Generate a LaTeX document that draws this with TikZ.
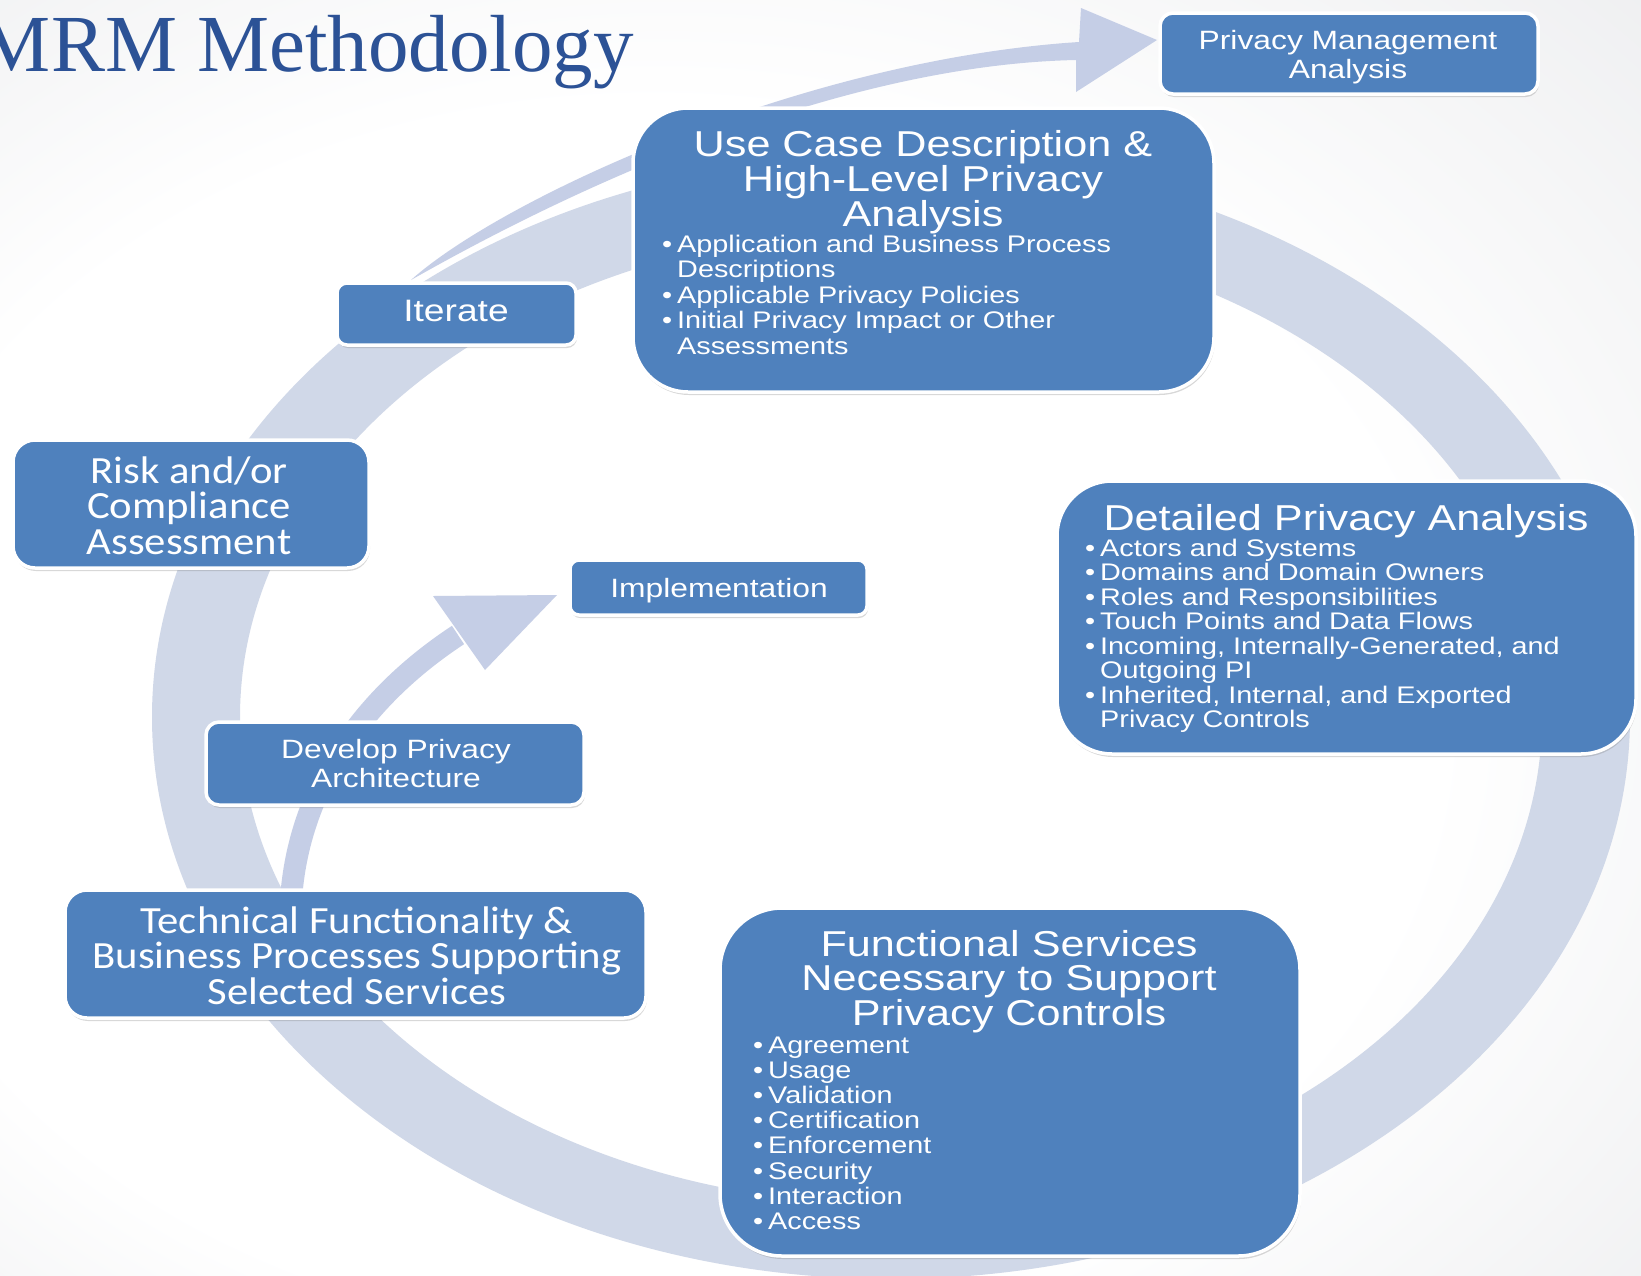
\documentclass[tikz,border=0pt]{standalone}
\usepackage{fontspec}
\usetikzlibrary{shadows}
\setmainfont{Liberation Sans}
\newfontfamily\boxsans[FakeStretch=1.2]{Liberation Sans}
\newfontfamily\boxcal[FakeStretch=1.11]{Carlito}
\newfontfamily\titleserif{Liberation Serif}
\definecolor{boxblue}{RGB}{79,129,189}
\definecolor{ringblue}{RGB}{208,216,232}
\definecolor{arrowblue}{RGB}{197,206,230}
\definecolor{titleblue}{RGB}{44,82,150}
\definecolor{bggray}{RGB}{226,227,230}
\pgfdeclareradialshading{bgglow}{\pgfpoint{-10bp}{-6bp}}{color(0bp)=(white); color(24bp)=(white); color(50bp)=(bggray)}
\newcommand{\bulitem}{\makebox[15pt][l]{•}}
\newcommand{\bulcont}{\hspace*{15pt}}

\begin{document}
\begin{tikzpicture}[x=1pt, y=-1pt,
  stagebox/.style={draw=white, line width=3.5pt, fill=boxblue,
    drop shadow={opacity=0.3, shadow xshift=1pt, shadow yshift=-3pt}},
  bighead/.style={inner sep=0, text=white, align=center, font=\boxsans\fontsize{36}{33.5}\selectfont},
  bullets/.style={inner sep=0, text=white, align=left, font=\boxsans\fontsize{24}{25}\selectfont},
  smalltxt/.style={inner sep=0, text=white, align=center, font=\boxsans\fontsize{26.5}{29}\selectfont},
  caltxt/.style={inner sep=0, text=white, align=center, font=\boxcal\fontsize{38.5}{35.5}\selectfont},
  band/.style={fill=arrowblue}]
\useasboundingbox (0,0) rectangle (1641,1275);
\shade[shading=bgglow] (0,0) rectangle (1641,1275);

% the cycle
\fill[ringblue, even odd rule] (891,717) ellipse [x radius=739, y radius=562]
  (891,717) ellipse [x radius=651, y radius=487];

% arrows
\coordinate (pmaTail) at (411,280);
\coordinate (pmaTip) at (1157,40);
\fill[band] (pmaTail) .. controls (500,200) and (800,60) .. (1079,42) -- (1081,8) -- (pmaTip)
  -- (1076,92) -- (1076,60) .. controls (880,64) and (640,150) .. (pmaTail) -- cycle;

\coordinate (implTail) at (291,900);
\coordinate (implBase) at (458,635);
\coordinate (implTip) at (557,595);
\draw[arrowblue, line width=22] (implTail) .. controls (298,790) and (362,698) .. (implBase);
\fill[band] (433,596) -- (implTip) -- (485,670) -- cycle;

% boxes
\node (PMA) at (1349,53.5) [stagebox, rounded corners=13, minimum width=378, minimum height=81] {};
\node (UC) at (923.5,250) [stagebox, rounded corners=55, minimum width=581, minimum height=284] {};
\node (IT) at (456.5,314) [stagebox, rounded corners=10, minimum width=239, minimum height=62] {};
\node (RC) at (191,504) [stagebox, rounded corners=22, minimum width=356, minimum height=128] {};
\node (IM) at (718.5,587.5) [stagebox, rounded corners=9, minimum width=297, minimum height=55] {};
\node (DP) at (395,763.5) [stagebox, rounded corners=13, minimum width=378, minimum height=83] {};
\node (DA) at (1346.5,617.5) [stagebox, rounded corners=55, minimum width=579, minimum height=273] {};
\node (TF) at (355.5,954) [stagebox, rounded corners=22, minimum width=581, minimum height=128] {};
\node (FS) at (1010,1082) [stagebox, rounded corners=62, minimum width=580, minimum height=348] {};

% texts (base = last line)
\node (PMAt) at (1348,78) [smalltxt, anchor=base] {Privacy Management\\Analysis};
\node (UCt) at (923,226) [bighead, anchor=base] {Use Case Description \&\\High-Level Privacy\\Analysis};
\node (UCl) at (662,354) [bullets, font=\boxsans\fontsize{24}{25.5}\selectfont, anchor=base west]
  {\bulitem Application and Business Process\\\bulcont Descriptions\\\bulitem Applicable Privacy Policies\\
   \bulitem Initial Privacy Impact or Other\\\bulcont Assessments};
\node (ITt) at (456,321) [smalltxt, font=\boxsans\fontsize{31}{31}\selectfont, anchor=base] {Iterate};
\node (RCt) at (189,554) [caltxt, anchor=base] {Risk and/or\\Compliance\\Assessment};
\node (IMt) at (719,597) [smalltxt, anchor=base] {Implementation};
\node (DPt) at (396,787) [smalltxt, anchor=base] {Develop Privacy\\Architecture};
\node (DAt) at (1346,530) [bighead, anchor=base] {Detailed Privacy Analysis};
\node (DAl) at (1085,727.5) [bullets, font=\boxsans\fontsize{24}{24.5}\selectfont, anchor=base west]
  {\bulitem Actors and Systems\\\bulitem Domains and Domain Owners\\\bulitem Roles and Responsibilities\\
   \bulitem Touch Points and Data Flows\\\bulitem Incoming, Internally-Generated, and\\\bulcont Outgoing PI\\
   \bulitem Inherited, Internal, and Exported\\\bulcont Privacy Controls};
\node (TFt) at (357,1004) [caltxt, anchor=base] {Technical Functionality \&\\Business Processes Supporting\\Selected Services};
\node (FSt) at (1009,1025) [bighead, anchor=base] {Functional Services\\Necessary to Support\\Privacy Controls};
\node (FSl) at (753,1229.4) [bullets, font=\boxsans\fontsize{24}{25.2}\selectfont, anchor=base west]
  {\bulitem Agreement\\\bulitem Usage\\\bulitem Validation\\\bulitem Certification\\
   \bulitem Enforcement\\\bulitem Security\\\bulitem Interaction\\\bulitem Access};

\node (title) at (634,71) [anchor=base east, inner sep=0, text=titleblue,
  font=\titleserif\fontsize{81}{81}\selectfont] {MRM Methodology};
\end{tikzpicture}
\end{document}
